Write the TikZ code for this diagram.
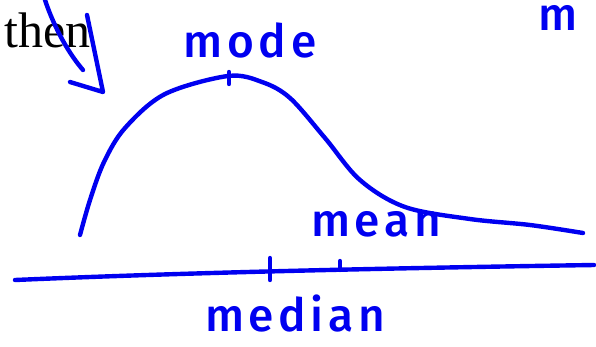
\documentclass[tikz,border=0pt]{standalone}
\usepackage{fontspec}
\setmainfont{Liberation Serif}
\newfontfamily\inkfont{Fira Sans Medium}[LetterSpace=10]
\usepackage{tikz}
\usetikzlibrary{positioning}
\definecolor{Ink}{HTML}{0000F0}
\tikzset{
  ink/.style={draw=Ink, line width=4.4pt, line cap=round, line join=round},
  inklabel/.style={text=Ink, font=\inkfont\fontsize{46}{46}\selectfont, inner sep=0pt},
  printed/.style={text=black, font=\fontsize{50}{50}\selectfont, inner sep=0pt}
}
\begin{document}
\begin{tikzpicture}[x=1pt, y=-1pt]
  \useasboundingbox (0,0) rectangle (596,346);
  % printed word left over from the slide
  \node[printed, anchor=base west] (then) at (4,47) {then};
  % hand-drawn arrow
  \draw[ink] (45,0) .. controls (55,30) and (70,55) .. (83,70);
  \draw[ink] (87,15) -- (103,92) -- (70,82);
  % skewed distribution
  \draw[ink] plot[smooth, tension=0.55] coordinates {(80,235) (90,200) (104,162) (125,128) (165,94) (228,76) (262,82) (290,98) (325,138) (360,180) (405,207) (470,219) (530,225) (583,233)};
  \draw[ink] (229,72) -- (229,84);
  % axis with ticks
  \draw[ink] (15,280) .. controls (200,272) and (400,268) .. (594,265);
  \draw[ink] (270,258) -- (270,280);
  \draw[ink] (340,261) -- (340,270);
  % labels
  \node[inklabel] (mode) at (250,40) {mode};
  \node[inklabel] (mean) at (376,224) {mean};
  \node[inklabel] (median) at (295,314) {median};
  \node[inklabel, anchor=base west] (cut) at (538,30) {m};
\end{tikzpicture}
\end{document}
